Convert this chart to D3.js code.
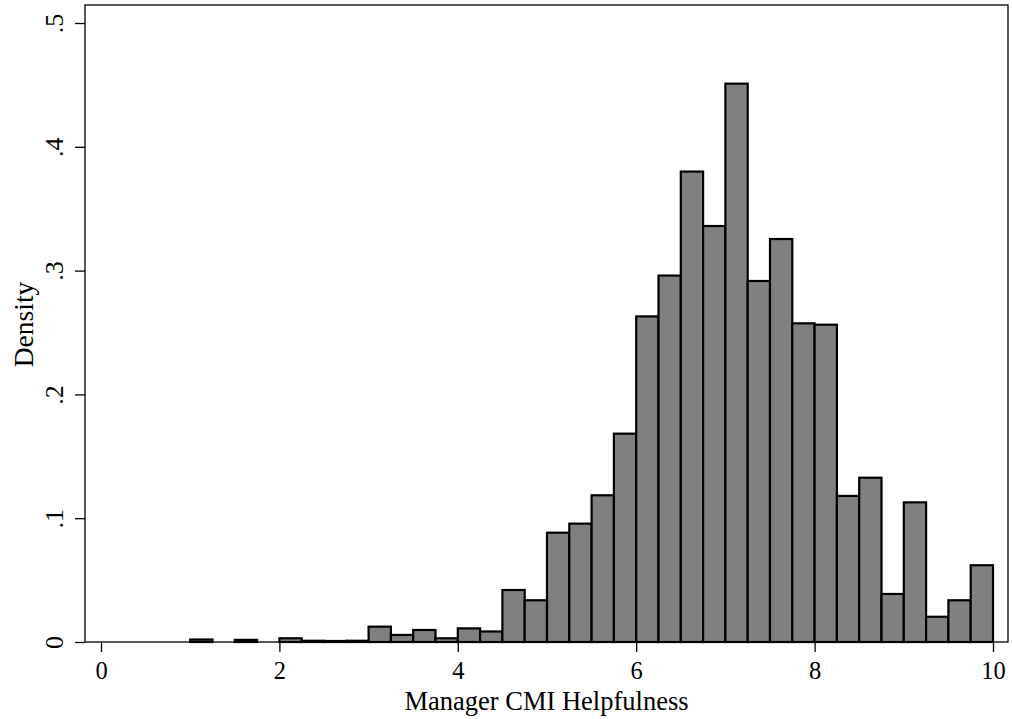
<!DOCTYPE html>
<html>
<head>
<meta charset="utf-8">
<script src="https://cdn.jsdelivr.net/npm/d3@7"></script>
<style>
  body { margin: 0; background: #fff; }
  text { font-family: "Liberation Serif", "Times New Roman", serif; fill: #000; }
</style>
</head>
<body>
<svg id="hist" width="1012" height="719"></svg>
<script>
// Bin lower edges (width .25) and density of each bin.
const binStarts = [1.00, 1.25, 1.50, 1.75, 2.00, 2.25, 2.50, 2.75, 3.00, 3.25, 3.50, 3.75,
                   4.00, 4.25, 4.50, 4.75, 5.00, 5.25, 5.50, 5.75, 6.00, 6.25, 6.50, 6.75,
                   7.00, 7.25, 7.50, 7.75, 8.00, 8.25, 8.50, 8.75, 9.00, 9.25, 9.50, 9.75];
const densities = [0.002, 0, 0.0017, 0, 0.003, 0.001, 0.0008, 0.001, 0.0124, 0.0057, 0.0097, 0.003,
                   0.011, 0.0085, 0.042, 0.0337, 0.0883, 0.0956, 0.1185, 0.1683, 0.263, 0.296, 0.380, 0.336,
                   0.451, 0.2916, 0.3255, 0.2574, 0.2563, 0.118, 0.1327, 0.0388, 0.1128, 0.0204, 0.0337, 0.062];
const binWidth = 0.25;
const xTicks = [0, 2, 4, 6, 8, 10];
const yTicks = [0, 0.1, 0.2, 0.3, 0.4, 0.5];
const yTickLabels = ["0", ".1", ".2", ".3", ".4", ".5"];

const bins = binStarts.map((x0, i) => ({ x0: x0, x1: x0 + binWidth, d: densities[i] }));

const svg = d3.select("#hist");
// plot region frame
const frame = { left: 85, top: 5, right: 1008, bottom: 642 };

const x = d3.scaleLinear().domain([0, 10]).range([101, 993]);
const y = d3.scaleLinear().domain([0, 0.5]).range([642, 23]);

svg.append("rect")
  .attr("x", frame.left)
  .attr("y", frame.top)
  .attr("width", frame.right - frame.left)
  .attr("height", frame.bottom - frame.top)
  .attr("fill", "none")
  .attr("stroke", "#000")
  .attr("stroke-width", 1.3);

// bars (empty bins are not drawn)
svg.append("g")
  .selectAll("rect")
  .data(bins.filter(b => b.d > 0))
  .join("rect")
  .attr("x", b => x(b.x0))
  .attr("y", b => y(b.d))
  .attr("width", b => x(b.x1) - x(b.x0))
  .attr("height", b => y(0) - y(b.d))
  .attr("fill", "#808080")
  .attr("stroke", "#000")
  .attr("stroke-width", 2.2);

// x axis
const xAxis = svg.append("g")
  .attr("transform", `translate(0,${frame.bottom})`)
  .call(d3.axisBottom(x).tickValues(xTicks).tickSize(10).tickPadding(10).tickFormat(d3.format("d")));
xAxis.select(".domain").remove();
xAxis.selectAll(".tick line").attr("stroke", "#000").attr("stroke-width", 1.3);
xAxis.selectAll(".tick text")
  .attr("font-size", 24.5)
  .attr("font-family", "Liberation Serif");

// y axis, Stata style with rotated labels
const yAxis = svg.append("g")
  .attr("transform", `translate(${frame.left},0)`)
  .call(d3.axisLeft(y).tickValues(yTicks).tickSize(10).tickFormat((d, i) => yTickLabels[i]));
yAxis.select(".domain").remove();
yAxis.selectAll(".tick line").attr("stroke", "#000").attr("stroke-width", 1.3);
yAxis.selectAll(".tick text")
  .attr("x", null)
  .attr("dy", null)
  .attr("transform", "translate(-22,0) rotate(-90)")
  .attr("text-anchor", "middle")
  .attr("font-size", 26)
  .attr("font-family", "Liberation Serif");

// axis titles
svg.append("text")
  .attr("x", (frame.left + frame.right) / 2)
  .attr("y", 710)
  .attr("text-anchor", "middle")
  .attr("font-size", 26.5)
  .text("Manager CMI Helpfulness");

svg.append("text")
  .attr("transform", `translate(33,${(frame.top + frame.bottom) / 2 + 1}) rotate(-90)`)
  .attr("text-anchor", "middle")
  .attr("font-size", 27.5)
  .text("Density");
</script>
</body>
</html>
